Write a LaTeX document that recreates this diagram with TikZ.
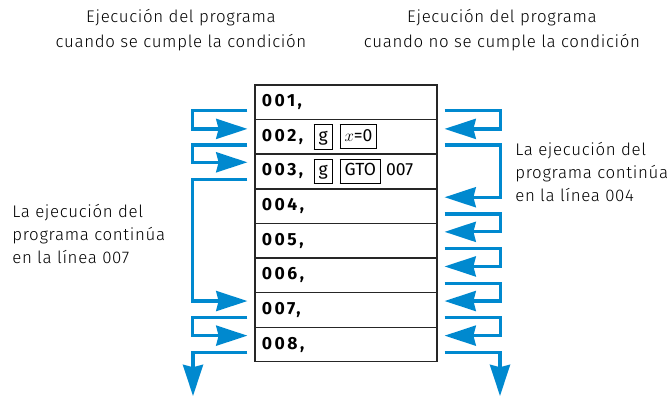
\documentclass[tikz,border=0pt]{standalone}
\usepackage{fontspec}
\setmainfont{Fira Sans}
\newfontfamily\ligera[LetterSpace=4]{Fira Sans Light}
\newfontfamily\cifras[LetterSpace=14]{Fira Sans}
\usetikzlibrary{arrows.meta}
\definecolor{azul}{RGB}{0,137,207}
\newcommand{\tecla}[1]{{\setlength{\fboxsep}{2.8pt}\setlength{\fboxrule}{0.7pt}\fbox{\rule[-2.5pt]{0pt}{11pt}#1}}}
\newcommand{\linea}[1]{{\cifras\bfseries #1}}

\begin{document}
\begin{tikzpicture}[x=0.025cm,y=-0.025cm,
    fila/.style={draw=black!85, line width=0.8pt, minimum width=4.55cm, minimum height=0.865cm,
      text width=4.2cm, align=left, inner xsep=0.175cm, font=\fontsize{12.5}{14}\selectfont},
    nota/.style={align=left, inner sep=0pt, font=\ligera\fontsize{12}{16.5}\selectfont},
    titulo/.style={align=center, inner sep=0pt, font=\ligera\fontsize{12}{18}\selectfont},
    flecha/.style={draw=azul, line width=2.3pt, -{Stealth[length=0.78cm,width=0.5cm,inset=0.06cm]}}]
    \useasboundingbox (0,0) rectangle (670,397);

    \node[titulo] (tituloI) at (181,30) {Ejecución del programa\\cuando se cumple la condición};
    \node[titulo] (tituloD) at (502,30) {Ejecución del programa\\cuando no se cumple la condición};

    \node[fila] (r1) at (346,102.3) {\linea{001,}};
    \node[fila] (r2) at (346,136.9) {\linea{002,}\hspace{0.6em}\tecla{g}\hspace{0.4em}\tecla{$x$=0}};
    \node[fila] (r3) at (346,171.5) {\linea{003,}\hspace{0.6em}\tecla{g}\hspace{0.4em}\tecla{GTO}\hspace{0.3em}007};
    \node[fila] (r4) at (346,206.1) {\linea{004,}};
    \node[fila] (r5) at (346,240.7) {\linea{005,}};
    \node[fila] (r6) at (346,275.3) {\linea{006,}};
    \node[fila] (r7) at (346,309.9) {\linea{007,}};
    \node[fila] (r8) at (346,344.5) {\linea{008,}};

    \node[nota, anchor=north west] (notaI) at (12,204) {La ejecución del\\programa continúa\\en la línea 007};
    \node[nota, anchor=north west] (notaD) at (515,142) {La ejecución del\\programa continúa\\en la línea 004};

    \coordinate (finI) at (193,396);
    \coordinate (finD) at (500,396);

    % condicion cumplida
    \draw[flecha] ([shift={(-7,-10)}]r1.south west) -- ++(-55,0) |- ([shift={(-7,10)}]r2.north west);
    \draw[flecha] ([shift={(-7,-10)}]r2.south west) -- ++(-55,0) |- ([shift={(-7,9)}]r3.north west);
    \draw[flecha] ([shift={(-7,-10)}]r3.south west) -- ++(-55,0) |- ([shift={(-7,9)}]r7.north west);
    \draw[flecha] ([shift={(-7,-10)}]r7.south west) -- ++(-55,0) |- ([shift={(-7,9)}]r8.north west);
    \draw[flecha] ([shift={(-7,-10)}]r8.south west) -| (finI);

    % condicion no cumplida
    \draw[flecha] ([shift={(7,-10)}]r1.south east) -- ++(56,0) |- ([shift={(7,10)}]r2.north east);
    \draw[flecha] ([shift={(7,-10)}]r2.south east) -- ++(56,0) |- ([shift={(7,9)}]r4.north east);
    \draw[flecha] ([shift={(7,-10)}]r4.south east) -- ++(56,0) |- ([shift={(7,9)}]r5.north east);
    \draw[flecha] ([shift={(7,-10)}]r5.south east) -- ++(56,0) |- ([shift={(7,9)}]r6.north east);
    \draw[flecha] ([shift={(7,-10)}]r6.south east) -- ++(56,0) |- ([shift={(7,9)}]r7.north east);
    \draw[flecha] ([shift={(7,-10)}]r7.south east) -- ++(56,0) |- ([shift={(7,9)}]r8.north east);
    \draw[flecha] ([shift={(7,-10)}]r8.south east) -| (finD);
\end{tikzpicture}
\end{document}
